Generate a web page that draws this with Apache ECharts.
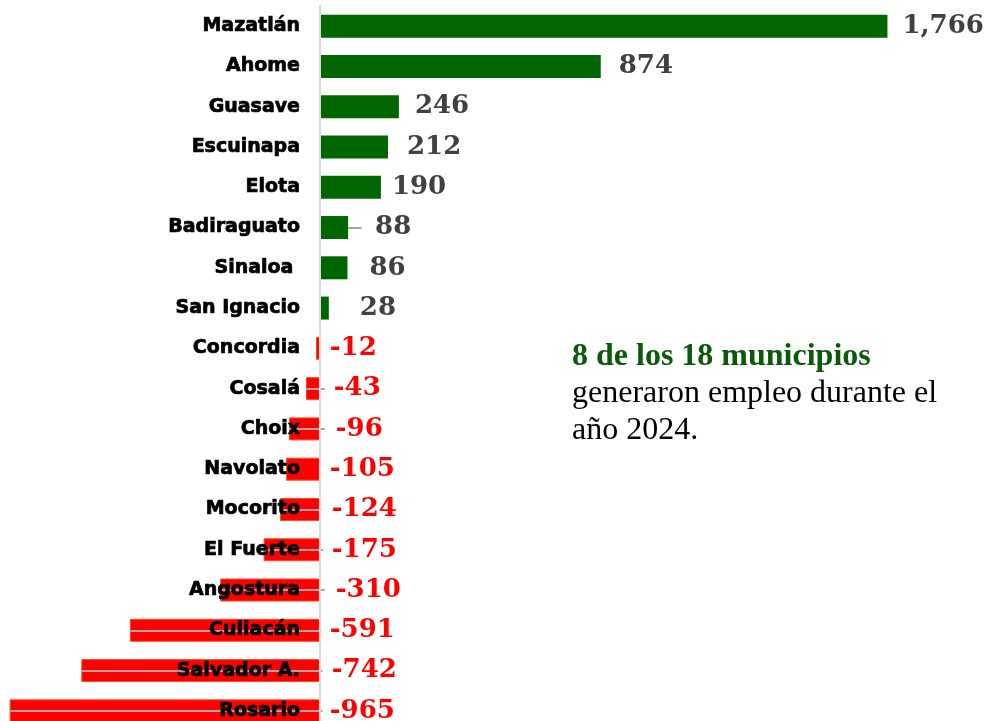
<!DOCTYPE html>
<html>
<head>
<meta charset="utf-8">
<script src="https://cdn.jsdelivr.net/npm/echarts@6/dist/echarts.min.js"></script>
<style>
  html, body { margin: 0; padding: 0; background: #fff; }
  #chart { width: 987px; height: 721px; }
</style>
</head>
<body>
<div id="chart"></div>
<script>
// datos: empleo generado por municipio, 2024
const municipios = ['Mazatlán', 'Ahome', 'Guasave', 'Escuinapa', 'Elota', 'Badiraguato', 'Sinaloa ', 'San Ignacio',
  'Concordia', 'Cosalá', 'Choix', 'Navolato', 'Mocorito', 'El Fuerte', 'Angostura', 'Culiacán', 'Salvador A.', 'Rosario'];
const empleos = [1766, 874, 246, 212, 190, 88, 86, 28, -12, -43, -96, -105, -124, -175, -310, -591, -742, -965];
// municipios cuya etiqueta lleva línea guía, y hasta dónde llega
const guias = ['Badiraguato', 'Cosalá', 'Choix', 'Mocorito', 'El Fuerte', 'Angostura', 'Culiacán', 'Salvador A.', 'Rosario'];
const finGuia = [130, 15, 15, 5, 10, 15, 5, 8, 8];

const verde = '#006600';
const rojo = '#ff0000';
// separación de cada etiqueta de valor (px), como quedaron en el original
const separacion = [15, 18, 16, 19, 11, 27, 22, 31, 10, 14, 16, 10, 12, 12, 16, 10, 12, 10];

const myChart = echarts.init(document.getElementById('chart'));

const lineasGuia = guias.map((m, i) => {
  const v = empleos[municipios.indexOf(m)];
  return [{ coord: [v, m] }, { coord: [finGuia[i], m] }];
});

const option = {
  animation: false,
  grid: { left: 0, right: 87, top: 6, bottom: -10, containLabel: false, outerBoundsMode: 'none' },
  xAxis: {
    type: 'value',
    min: -995,
    max: 1805,
    show: false
  },
  yAxis: {
    type: 'category',
    data: municipios,
    inverse: true,
    z: 5,
    // eje en el cero
    offset: -320,
    axisTick: { show: false },
    axisLine: { show: true, onZero: false, lineStyle: { color: '#d9d9d9', width: 2 } },
    axisLabel: {
      margin: 20,
      color: '#000',
      fontFamily: 'DejaVu Sans',
      fontWeight: 'bold',
      fontSize: 19,
      textBorderColor: '#000',
      textBorderWidth: 0.7
    }
  },
  series: [{
    type: 'bar',
    barWidth: 23,
    data: empleos.map((v, i) => ({
      value: v,
      itemStyle: v >= 0
        ? { color: verde }
        : { color: rojo, borderColor: '#ff4d1a', borderWidth: 1 },
      label: {
        color: v >= 0 ? '#404040' : rojo,
        distance: separacion[i]
      }
    })),
    label: {
      show: true,
      position: 'right',
      fontFamily: 'DejaVu Serif',
      fontWeight: 'bold',
      fontSize: 26,
      formatter: p => p.value.toLocaleString('en-US')
    },
    markLine: {
      silent: true,
      symbol: 'none',
      label: { show: false },
      lineStyle: { color: '#a6a6a6', width: 2, type: 'solid' },
      data: lineasGuia
    }
  }],
  graphic: [{
    type: 'text',
    left: 572,
    top: 338,
    style: {
      text: '{b|8 de los 18 municipios}\ngeneraron empleo durante el\naño 2024.',
      font: '32px "Liberation Serif"',
      fill: '#000',
      lineHeight: 37,
      rich: {
        b: { font: 'bold 32px "Liberation Serif"', fill: '#0b5a0b', lineHeight: 37 }
      }
    }
  }]
};

myChart.setOption(option);
window.addEventListener('resize', function () {
  myChart.resize();
});
</script>
</body>
</html>
